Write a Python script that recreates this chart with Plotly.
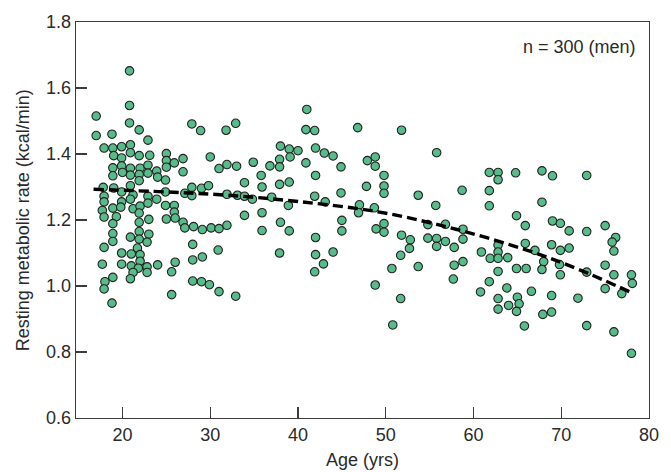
import plotly.graph_objects as go

age = [
    20.8, 20.8, 17.0, 20.8, 17.0, 18.8, 21.9, 22.9, 27.9, 28.9, 31.8, 17.9, 18.9, 19.9, 20.9, 20.9,
    19.0, 19.9, 21.9, 23.1, 25.0, 25.0, 25.9, 26.9, 30.0, 31.0, 31.9, 18.9, 19.9, 20.0, 20.9, 22.0,
    21.9, 22.9, 22.9, 23.9, 24.0, 25.0, 26.9, 18.9, 20.9, 21.9, 24.9, 17.8, 19.0, 20.9, 19.9, 21.2,
    20.9, 17.9, 22.9, 23.9, 24.9, 27.1, 27.9, 27.9, 29.0, 29.8, 31.9, 17.9, 17.7, 18.9, 19.9, 19.8,
    21.2, 22.0, 22.9, 21.9, 24.9, 25.9, 25.9, 17.9, 19.3, 23.0, 25.0, 26.0, 26.9,
    18.9, 21.9, 27.1, 28.1, 29.1, 30.1, 31.0, 31.9, 18.9, 18.9, 17.9, 20.9, 21.9, 21.9, 23.0, 22.8,
    21.7, 19.9, 21.0, 22.0, 22.0, 17.7, 19.9, 21.0, 21.8, 22.8, 22.8, 21.2, 24.0, 26.0, 25.6, 28.0,
    28.0, 29.1, 30.9, 18.9, 18.0, 17.9, 20.9, 28.0, 29.0, 29.9, 31.0, 18.8, 25.6,
    41.0, 32.9, 40.9, 41.9, 46.8, 38.0, 39.0, 40.0, 39.1, 37.9, 37.9, 36.8, 34.9, 33.0, 40.9, 42.0,
    43.0, 44.0, 44.9, 42.0, 35.8, 33.9, 35.9, 37.9, 39.0, 33.1, 33.9, 34.8, 37.0, 38.9, 41.9, 43.1,
    44.9, 47.8, 47.9, 48.8, 48.8, 47.0, 46.9, 48.7, 33.9, 35.9, 38.0, 45.0,
    35.9, 39.0, 45.0, 42.0, 48.9, 37.9, 42.0, 44.0, 42.9, 41.9, 32.9, 48.8,
    51.8, 55.8, 49.8, 49.8, 49.8, 53.7, 58.7, 61.8, 62.8, 62.8, 64.8, 61.8, 55.7, 61.8, 64.9,
    65.9, 49.8, 49.8, 54.8, 56.8, 58.8, 51.8, 52.8, 54.8, 55.8, 56.8, 55.8, 58.8, 57.8, 52.7, 51.7,
    60.9, 62.8, 62.8, 61.9, 62.8, 63.9, 65.9, 50.7, 53.7, 57.8, 58.8, 64.9, 66.0, 62.8, 57.7, 61.8,
    60.8, 63.8, 62.8, 65.0, 65.2, 64.0, 62.8, 64.9, 51.7, 50.8, 65.8, 66.6,
    67.8, 69.0, 72.9, 67.8, 69.0, 69.9, 70.9, 72.9, 75.0, 76.2, 75.8, 67.0, 68.9, 69.9, 70.9, 76.0,
    68.0, 67.8, 69.8, 69.9, 72.9, 75.0, 76.0, 78.0, 78.1, 75.0, 76.9, 68.9, 71.9, 67.9, 68.9, 72.9,
    76.0, 78.0,
]

rate = [
    1.652, 1.547, 1.515, 1.494, 1.456, 1.460, 1.473, 1.442, 1.491, 1.471, 1.472, 1.418, 1.418, 1.422, 1.428, 1.404,
    1.395, 1.388, 1.395, 1.396, 1.401, 1.380, 1.373, 1.386, 1.391, 1.356, 1.368, 1.358, 1.364, 1.344, 1.357, 1.357,
    1.338, 1.366, 1.342, 1.348, 1.330, 1.360, 1.346, 1.334, 1.336, 1.319, 1.321, 1.299, 1.297, 1.304, 1.285, 1.276,
    1.263, 1.272, 1.272, 1.263, 1.285, 1.281, 1.299, 1.274, 1.296, 1.304, 1.278, 1.255, 1.229, 1.236, 1.255, 1.239,
    1.234, 1.242, 1.251, 1.221, 1.244, 1.244, 1.224, 1.209, 1.210, 1.202, 1.203, 1.206, 1.193,
    1.189, 1.193, 1.176, 1.180, 1.171, 1.176, 1.174, 1.184, 1.159, 1.135, 1.117, 1.148, 1.165, 1.142, 1.157, 1.133,
    1.115, 1.100, 1.097, 1.095, 1.075, 1.066, 1.066, 1.061, 1.054, 1.058, 1.041, 1.041, 1.064, 1.072, 1.043, 1.126,
    1.079, 1.088, 1.109, 1.026, 1.013, 0.991, 1.022, 1.015, 1.013, 1.004, 0.983, 0.948, 0.974,
    1.535, 1.493, 1.474, 1.471, 1.480, 1.424, 1.415, 1.410, 1.391, 1.384, 1.361, 1.364, 1.375, 1.363, 1.373, 1.418,
    1.403, 1.394, 1.361, 1.335, 1.335, 1.313, 1.300, 1.308, 1.315, 1.275, 1.272, 1.263, 1.269, 1.244, 1.272, 1.255,
    1.282, 1.302, 1.380, 1.391, 1.363, 1.246, 1.222, 1.237, 1.214, 1.222, 1.193, 1.199,
    1.168, 1.167, 1.167, 1.147, 1.173, 1.100, 1.095, 1.103, 1.067, 1.043, 0.969, 1.003,
    1.472, 1.404, 1.335, 1.303, 1.281, 1.275, 1.290, 1.344, 1.344, 1.322, 1.343, 1.289, 1.244, 1.243, 1.213,
    1.183, 1.189, 1.163, 1.186, 1.187, 1.172, 1.154, 1.140, 1.145, 1.144, 1.135, 1.120, 1.142, 1.117, 1.114, 1.093,
    1.103, 1.124, 1.103, 1.084, 1.084, 1.086, 1.129, 1.053, 1.059, 1.063, 1.074, 1.053, 1.053, 1.044, 1.021, 1.013,
    0.982, 0.994, 0.962, 0.966, 0.946, 0.941, 0.930, 0.923, 0.962, 0.882, 0.879, 0.984,
    1.349, 1.334, 1.335, 1.254, 1.197, 1.190, 1.167, 1.165, 1.183, 1.147, 1.133, 1.108, 1.125, 1.108, 1.115, 1.106,
    1.074, 1.050, 1.065, 1.034, 1.042, 1.063, 1.034, 1.034, 1.008, 0.992, 0.977, 0.971, 0.963, 0.914, 0.921, 0.880,
    0.861, 0.796,
]

fit_age = [16.7, 25, 32, 40, 49.3, 58, 66.5, 72, 78]
fit_rate = [1.293, 1.285, 1.275, 1.256, 1.224, 1.172, 1.105, 1.050, 0.980]

x_ticks = [20, 30, 40, 50, 60, 70, 80]
y_ticks = [0.6, 0.8, 1.0, 1.2, 1.4, 1.6, 1.8]

FONT = "Liberation Sans, Arial, Helvetica, sans-serif"
TXT = "#2a2a2a"
AX = "#3c3c3c"

fig = go.Figure()
fig.add_trace(go.Scatter(
    x=age, y=rate, mode="markers",
    marker=dict(size=8.5, color="#57BC8A", line=dict(color="#222222", width=1.1)),
    showlegend=False, hoverinfo="skip",
))
fig.add_trace(go.Scatter(
    x=fit_age, y=fit_rate, mode="lines",
    line=dict(color="black", width=3.4, dash="10px,5px", shape="spline"),
    showlegend=False, hoverinfo="skip",
))

fig.update_layout(
    width=671, height=472,
    margin=dict(l=76, r=22, t=15, b=54),
    plot_bgcolor="white", paper_bgcolor="white",
    font=dict(family=FONT, size=18, color=TXT),
    xaxis=dict(
        range=[14.7, 80], tickvals=x_ticks, ticktext=[str(v) for v in x_ticks],
        ticks="inside", ticklen=11, tickwidth=1.3, tickcolor=AX,
        showline=True, linecolor=AX, linewidth=1.3, mirror=True,
        showgrid=False, zeroline=False,
        tickfont=dict(size=18, color=TXT),
    ),
    yaxis=dict(
        range=[0.6, 1.8], tickvals=y_ticks, ticktext=[f"{v:.1f}" for v in y_ticks],
        ticks="inside", ticklen=11, tickwidth=1.3, tickcolor=AX,
        showline=True, linecolor=AX, linewidth=1.3, mirror=True,
        showgrid=False, zeroline=False,
        tickfont=dict(size=18, color=TXT),
    ),
    annotations=[
        dict(text="n = 300 (men)", xref="paper", yref="paper", x=0.981, y=0.938,
             xanchor="right", yanchor="middle", showarrow=False,
             font=dict(size=18, color=TXT)),
        dict(text="Resting metabolic rate (kcal/min)", xref="paper", yref="paper",
             x=-0.092, y=0.5, xanchor="center", yanchor="middle", textangle=-90,
             showarrow=False, font=dict(size=18, color=TXT)),
        dict(text="Age (yrs)", xref="paper", yref="paper", x=0.5, y=-0.105,
             xanchor="center", yanchor="middle", showarrow=False,
             font=dict(size=18, color=TXT)),
    ],
)

fig.write_html(
    "out.html",
    config={"displayModeBar": False, "staticPlot": True},
    post_script="document.body.style.margin='0';document.body.style.overflow='hidden';",
)
